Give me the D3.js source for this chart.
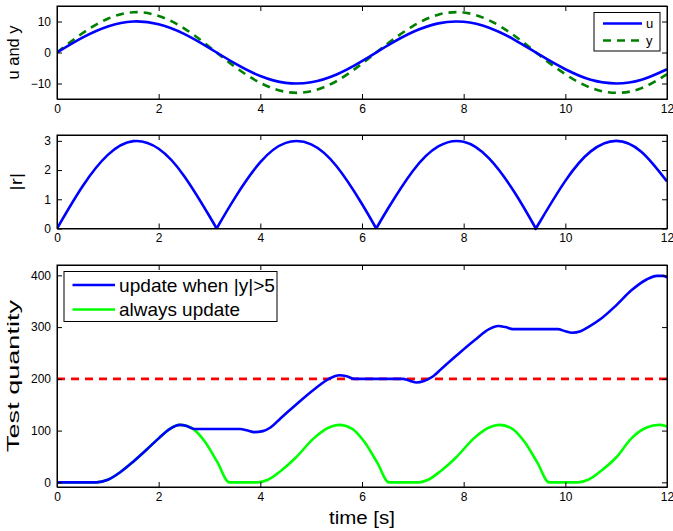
<!DOCTYPE html>
<html>
<head>
<meta charset="utf-8">
<script src="https://cdn.jsdelivr.net/npm/d3@7"></script>
<style>
  body { margin: 0; background: #fff; }
  svg { display: block; }
  text { font-family: "Liberation Sans", Arial, sans-serif; fill: #000; }
  .axis text { font-size: 12px; }
  .axis path, .axis line { stroke: #000; }
</style>
</head>
<body>
<svg id="chart"></svg>
<script>
// ---- data ----
let xTicks = [0, 2, 4, 6, 8, 10, 12];
let ticksUY = [-10, 0, 10];
let ticksR = [0, 1, 2, 3];
let ticksTest = [0, 100, 200, 300, 400];

// top panel: u and y
let timeTop = [0, 0.5, 1, 1.5, 2, 2.5, 3, 3.5, 4, 4.5, 5, 5.5, 6, 6.5, 7, 7.5, 8, 8.5, 9, 9.5, 10, 10.5, 11, 11.5, 12];
let uVals = [0, 4.8, 8.4, 10, 9.1, 6, 1.4, -3.5, -7.6, -9.8, -9.6, -7.1, -2.8, 2.2, 6.6, 9.4, 9.9, 8, 4.1, -0.8, -5.4, -8.8, -10, -8.8, -5.4];
let yVals = [0, 6.2, 10.9, 13, 11.8, 7.8, 1.8, -4.6, -9.8, -12.7, -12.5, -9.2, -3.6, 2.8, 8.5, 12.2, 12.9, 10.4, 5.4, -1, -7, -11.4, -13, -11.5, -7];

// middle panel: |r|
let timeR = [0, 0.5, 1, 1.5, 2, 2.5, 3, 3.14, 3.5, 4, 4.5, 5, 5.5, 6, 6.28, 6.5, 7, 7.5, 8, 8.5, 9, 9.42, 9.5, 10, 10.5, 11, 11.5, 12];
let rVals = [0, 1.44, 2.52, 2.99, 2.73, 1.8, 0.42, 0, 1.05, 2.27, 2.93, 2.88, 2.13, 0.84, 0, 0.65, 1.97, 2.81, 2.97, 2.4, 1.24, 0, 0.23, 1.63, 2.64, 3.0, 2.62, 1.61];

// bottom panel: test quantity
let timeUpdate = [0, 0.5, 0.78, 1.0, 1.25, 1.5, 1.75, 2.0, 2.2, 2.42, 2.55, 2.7, 3.0, 3.3, 3.6, 3.75, 3.88, 4.05, 4.2, 4.4, 4.7, 5.05, 5.35, 5.55, 5.7, 5.85, 6.2, 6.5, 6.8, 6.95, 7.07, 7.22, 7.4, 7.57, 7.87, 8.22, 8.5, 8.68, 8.82, 8.97, 9.3, 9.6, 9.85, 10.0, 10.13, 10.3, 10.45, 10.7, 11.0, 11.3, 11.6, 11.8, 11.92, 12];
let updateVals = [0, 0, 0, 5, 20, 40, 62, 85, 102, 111, 109, 103, 103, 103, 103, 100, 97, 99, 106, 124, 150, 179, 200, 207, 205, 200, 200, 200, 200, 196, 193, 196, 205, 220, 246, 275, 296, 302, 300, 296, 296, 296, 296, 292, 289, 292, 300, 316, 342, 371, 392, 399, 399, 396];
let timeAlways = [0, 0.5, 0.78, 1.0, 1.25, 1.5, 1.75, 2.0, 2.2, 2.42, 2.65, 2.9, 3.15, 3.39, 3.7, 3.95, 4.15, 4.4, 4.7, 5.05, 5.35, 5.55, 5.8, 6.05, 6.3, 6.53, 6.8, 7.12, 7.3, 7.55, 7.85, 8.2, 8.5, 8.7, 8.95, 9.2, 9.45, 9.68, 10.0, 10.25, 10.45, 10.7, 11.0, 11.3, 11.6, 11.85, 12];
let alwaysVals = [0, 0, 0, 5, 20, 40, 62, 85, 102, 111, 105, 80, 40, 0, 0, 0, 5, 22, 48, 85, 106, 111, 104, 78, 38, 0, 0, 0, 5, 22, 48, 85, 106, 111, 104, 78, 38, 0, 0, 0, 5, 22, 48, 85, 106, 111, 108];
let threshold = 200;

// ---- layout ----
let width = 673;
let height = 531;
let left = 57;
let right = 667;

let svg = d3.select("#chart").attr("width", width).attr("height", height);

let xScale = d3.scaleLinear().domain([0, 12]).range([left, right]);

let zip = (xs, ys) => xs.map((t, i) => [t, ys[i]]);

let makePanel = (top, bottom, domain, yTicks) => {
    let yScale = d3.scaleLinear().domain(domain).range([bottom, top]);
    let g = svg.append("g");

    g.append("rect")
        .attr("x", left).attr("y", top)
        .attr("width", right - left).attr("height", bottom - top)
        .attr("fill", "#fff");

    let clipId = "clip" + Math.round(top);
    g.append("clipPath").attr("id", clipId)
        .append("rect")
        .attr("x", left).attr("y", top - 2)
        .attr("width", right - left).attr("height", bottom - top + 4);

    let plot = g.append("g").attr("clip-path", "url(#" + clipId + ")");

    let axes = g.append("g");
    axes.append("g").attr("class", "axis")
        .attr("transform", "translate(0," + bottom + ")")
        .call(d3.axisBottom(xScale).tickValues(xTicks).tickSizeInner(-5).tickSizeOuter(0).tickPadding(5));
    axes.append("g").attr("class", "axis")
        .attr("transform", "translate(0," + top + ")")
        .call(d3.axisTop(xScale).tickValues(xTicks).tickSizeInner(-5).tickSizeOuter(0).tickFormat(""));
    axes.append("g").attr("class", "axis")
        .attr("transform", "translate(" + left + ",0)")
        .call(d3.axisLeft(yScale).tickValues(yTicks).tickSizeInner(-5).tickSizeOuter(0).tickPadding(6)
            .tickFormat(d => d < 0 ? "\u2212" + Math.abs(d) : d));
    axes.append("g").attr("class", "axis")
        .attr("transform", "translate(" + right + ",0)")
        .call(d3.axisRight(yScale).tickValues(yTicks).tickSizeInner(-5).tickSizeOuter(0).tickFormat(""));

    g.append("rect")
        .attr("x", left).attr("y", top)
        .attr("width", right - left).attr("height", bottom - top)
        .attr("fill", "none").attr("stroke", "#000").attr("stroke-width", 1);

    return { g: g, plot: plot, yScale: yScale, top: top, bottom: bottom };
};

let drawLine = (panel, pts, color, dash, curve) => {
    let line = d3.line()
        .x(d => xScale(d[0]))
        .y(d => panel.yScale(d[1]))
        .curve(curve || d3.curveMonotoneX);
    panel.plot.append("path")
        .datum(pts)
        .attr("d", line)
        .attr("fill", "none")
        .attr("stroke", color)
        .attr("stroke-width", 2.6)
        .attr("stroke-dasharray", dash || null);
};

let yLabel = (panel, label, x, size, len) => {
    let cy = (panel.top + panel.bottom) / 2;
    let t = svg.append("text")
        .attr("transform", "translate(" + x + "," + cy + ") rotate(-90)")
        .attr("text-anchor", "middle")
        .attr("font-size", size)
        .text(label);
    if (len) t.attr("textLength", len).attr("lengthAdjust", "spacingAndGlyphs");
};

// ---- panel 1: u and y ----
let p1 = makePanel(6, 99, [-15, 15], ticksUY);
drawLine(p1, zip(timeTop, yVals), "#008000", "8,6", d3.curveNatural);
drawLine(p1, zip(timeTop, uVals), "#0000ff", null, d3.curveNatural);
yLabel(p1, "u and y", 19, 16, 54);

let leg1 = svg.append("g");
leg1.append("rect").attr("x", 594).attr("y", 12.5).attr("width", 66).attr("height", 38.5)
    .attr("fill", "#fff").attr("stroke", "#000");
let legTop = [["u", "#0000ff", null, 23.5], ["y", "#008000", "8,6", 40.5]];
legTop.forEach(item => {
    leg1.append("line").attr("x1", 603).attr("x2", 642).attr("y1", item[3]).attr("y2", item[3])
        .attr("stroke", item[1]).attr("stroke-width", 2.6).attr("stroke-dasharray", item[2]);
    leg1.append("text").attr("x", 646).attr("y", item[3] + 4.5).attr("font-size", 13).text(item[0]);
});

// ---- panel 2: |r| ----
let p2 = makePanel(135, 228.5, [0, 3.2], ticksR);
let rPts = zip(timeR, rVals);
// split at the cusps so each arch is drawn on its own
let segs = [];
let cur = [];
rPts.forEach((d, i) => {
    cur.push(d);
    if (d[1] === 0 && i > 0) { segs.push(cur); cur = [d]; }
});
if (cur.length > 1) segs.push(cur);
segs.forEach(s => drawLine(p2, s, "#0000ff", null, d3.curveNatural));
yLabel(p2, "|r|", 22, 17, 18);

// ---- panel 3: test quantity ----
let p3 = makePanel(265, 487, [-9, 420], ticksTest);
p3.plot.append("line")
    .attr("x1", xScale(0)).attr("x2", xScale(12))
    .attr("y1", p3.yScale(threshold)).attr("y2", p3.yScale(threshold))
    .attr("stroke", "#ff0000").attr("stroke-width", 2.6).attr("stroke-dasharray", "8,6");
drawLine(p3, zip(timeAlways, alwaysVals), "#00ff00");
drawLine(p3, zip(timeUpdate, updateVals), "#0000ff");
yLabel(p3, "Test quantity", 19, 17, 152);

svg.append("text")
    .attr("x", (left + right) / 2).attr("y", 524)
    .attr("text-anchor", "middle").attr("font-size", 18)
    .attr("textLength", 66).attr("lengthAdjust", "spacingAndGlyphs")
    .text("time [s]");

let leg3 = svg.append("g");
leg3.append("rect").attr("x", 64).attr("y", 271.5).attr("width", 213).attr("height", 50)
    .attr("fill", "#fff").attr("stroke", "#000");
let legBottom = [["update when |y|>5", "#0000ff", 285, 156], ["always update", "#00ff00", 309.5, 121]];
legBottom.forEach(item => {
    leg3.append("line").attr("x1", 72.5).attr("x2", 115).attr("y1", item[2]).attr("y2", item[2])
        .attr("stroke", item[1]).attr("stroke-width", 2.6);
    leg3.append("text").attr("x", 119).attr("y", item[2] + 6.5).attr("font-size", 19)
        .attr("textLength", item[3]).attr("lengthAdjust", "spacingAndGlyphs")
        .text(item[0]);
});
</script>
</body>
</html>
